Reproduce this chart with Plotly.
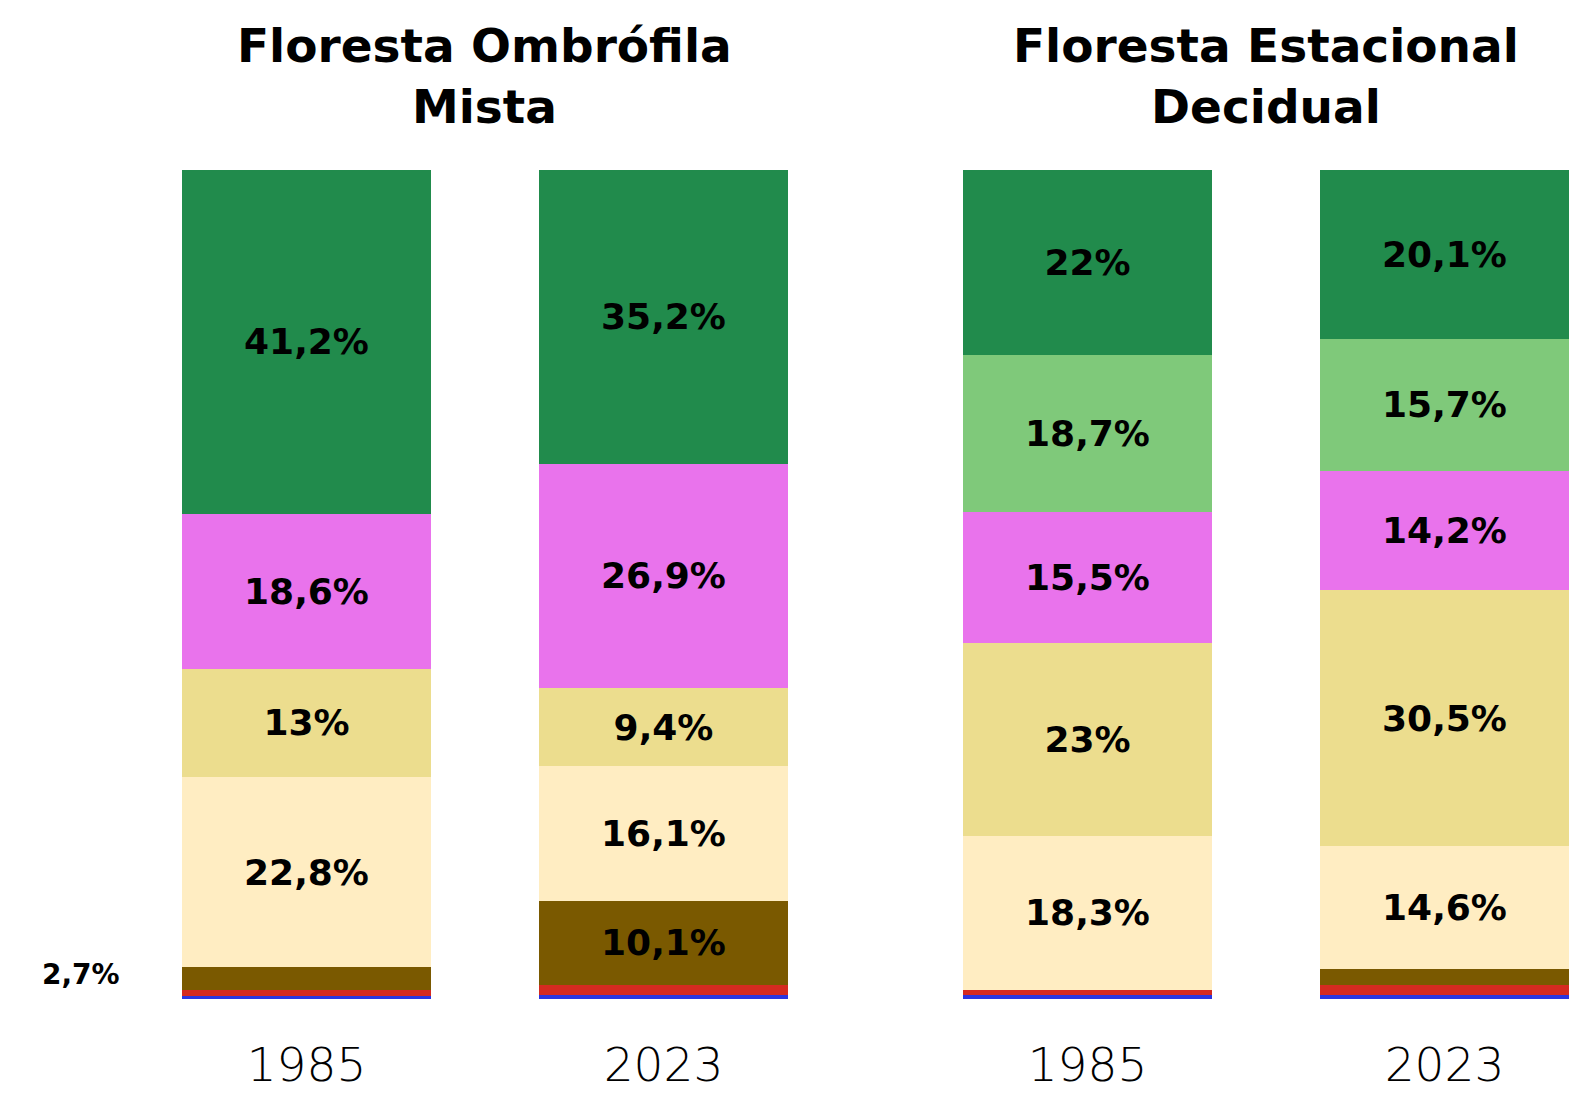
import plotly.graph_objects as go

years = ["1985", "2023"]
panels = ["Floresta Ombrófila<br>Mista", "Floresta Estacional<br>Decidual"]

# stacking order bottom -> top
classes = ["Água", "Urbano", "Silvicultura", "Pastagem", "Agricultura", "Mosaico", "Campo", "Floresta"]
colors = ["#2A35E0", "#D52A20", "#7A5900", "#FFEDC2", "#ECDD8E", "#E973EC", "#7FC97A", "#218B4C"]

# values per panel: [1985, 2023]
om_values = {
    "Água": [0.4, 0.5],
    "Urbano": [0.7, 1.2],
    "Silvicultura": [2.7, 10.1],
    "Pastagem": [22.8, 16.1],
    "Agricultura": [13.0, 9.4],
    "Mosaico": [18.6, 26.9],
    "Campo": [0.0, 0.0],
    "Floresta": [41.2, 35.2],
}
fed_values = {
    "Água": [0.5, 0.5],
    "Urbano": [0.6, 1.2],
    "Silvicultura": [0.0, 1.9],
    "Pastagem": [18.3, 14.6],
    "Agricultura": [23.0, 30.5],
    "Mosaico": [15.5, 14.2],
    "Campo": [18.7, 15.7],
    "Floresta": [22.0, 20.1],
}
om_labels = {
    "Pastagem": ["22,8%", "16,1%"],
    "Agricultura": ["13%", "9,4%"],
    "Mosaico": ["18,6%", "26,9%"],
    "Floresta": ["41,2%", "35,2%"],
    "Silvicultura": ["", "10,1%"],
}
fed_labels = {
    "Pastagem": ["18,3%", "14,6%"],
    "Agricultura": ["23%", "30,5%"],
    "Mosaico": ["15,5%", "14,2%"],
    "Campo": ["18,7%", "15,7%"],
    "Floresta": ["22%", "20,1%"],
}
outside_label = "2,7%"

OFF = 8  # default page body margin
W, H = 1587 - OFF, 1096 - OFF
LABEL_FONT = dict(family="DejaVu Sans", size=36, color="black", weight=700)


def px(v):
    return (v - OFF) / W


def py(v):
    return 1 - (v - OFF) / H


fig = go.Figure()
for vals, labs, xa, ya in [(om_values, om_labels, "x", "y"), (fed_values, fed_labels, "x2", "y2")]:
    for cls, col in zip(classes, colors):
        fig.add_trace(go.Bar(
            x=years, y=vals[cls], name=cls, marker=dict(color=col, line=dict(width=0)),
            text=labs.get(cls, ["", ""]), textposition="inside", insidetextanchor="middle",
            textangle=0, textfont=LABEL_FONT, constraintext="none",
            xaxis=xa, yaxis=ya, showlegend=False, hoverinfo="skip",
        ))

y_dom = [py(999), py(170)]
om_dom = [px(128), px(842)]
fed_dom = [px(909), 1.0]
fed_range_end = -0.5 + (1587 - 909) / 357

xcommon = dict(type="category", showgrid=False, zeroline=False, showline=False, ticks="",
               tickfont=dict(family="DejaVu Sans", size=47, color="black", weight=300),
               ticklabelstandoff=34, fixedrange=True)
ycommon = dict(range=[0, 100], showgrid=False, zeroline=False, showline=False,
               showticklabels=False, domain=y_dom, fixedrange=True)

fig.update_layout(
    width=W, height=H, barmode="stack", barnorm="percent", bargap=0.3025,
    paper_bgcolor="white", plot_bgcolor="white",
    margin=dict(l=0, r=0, t=0, b=0),
    xaxis=dict(domain=om_dom, range=[-0.5, 1.5], anchor="y", **xcommon),
    xaxis2=dict(domain=fed_dom, range=[-0.5, fed_range_end], anchor="y2", **xcommon),
    yaxis=dict(anchor="x", **ycommon),
    yaxis2=dict(anchor="x2", **ycommon),
    uniformtext=dict(mode=False),
)

TITLE_FONT = dict(family="DejaVu Sans", size=47, color="black", weight=600)
fig.add_annotation(text=panels[0], x=px(485), y=py(76), xref="paper", yref="paper",
                   showarrow=False, xanchor="center", yanchor="middle", font=TITLE_FONT)
fig.add_annotation(text=panels[1], x=px(1266), y=py(76), xref="paper", yref="paper",
                   showarrow=False, xanchor="center", yanchor="middle", font=TITLE_FONT)
fig.add_annotation(text=outside_label, x=px(81), y=py(974), xref="paper", yref="paper",
                   showarrow=False, xanchor="center", yanchor="middle",
                   font=dict(family="DejaVu Sans", size=28, color="black", weight=700))

fig.write_html("out.html")
